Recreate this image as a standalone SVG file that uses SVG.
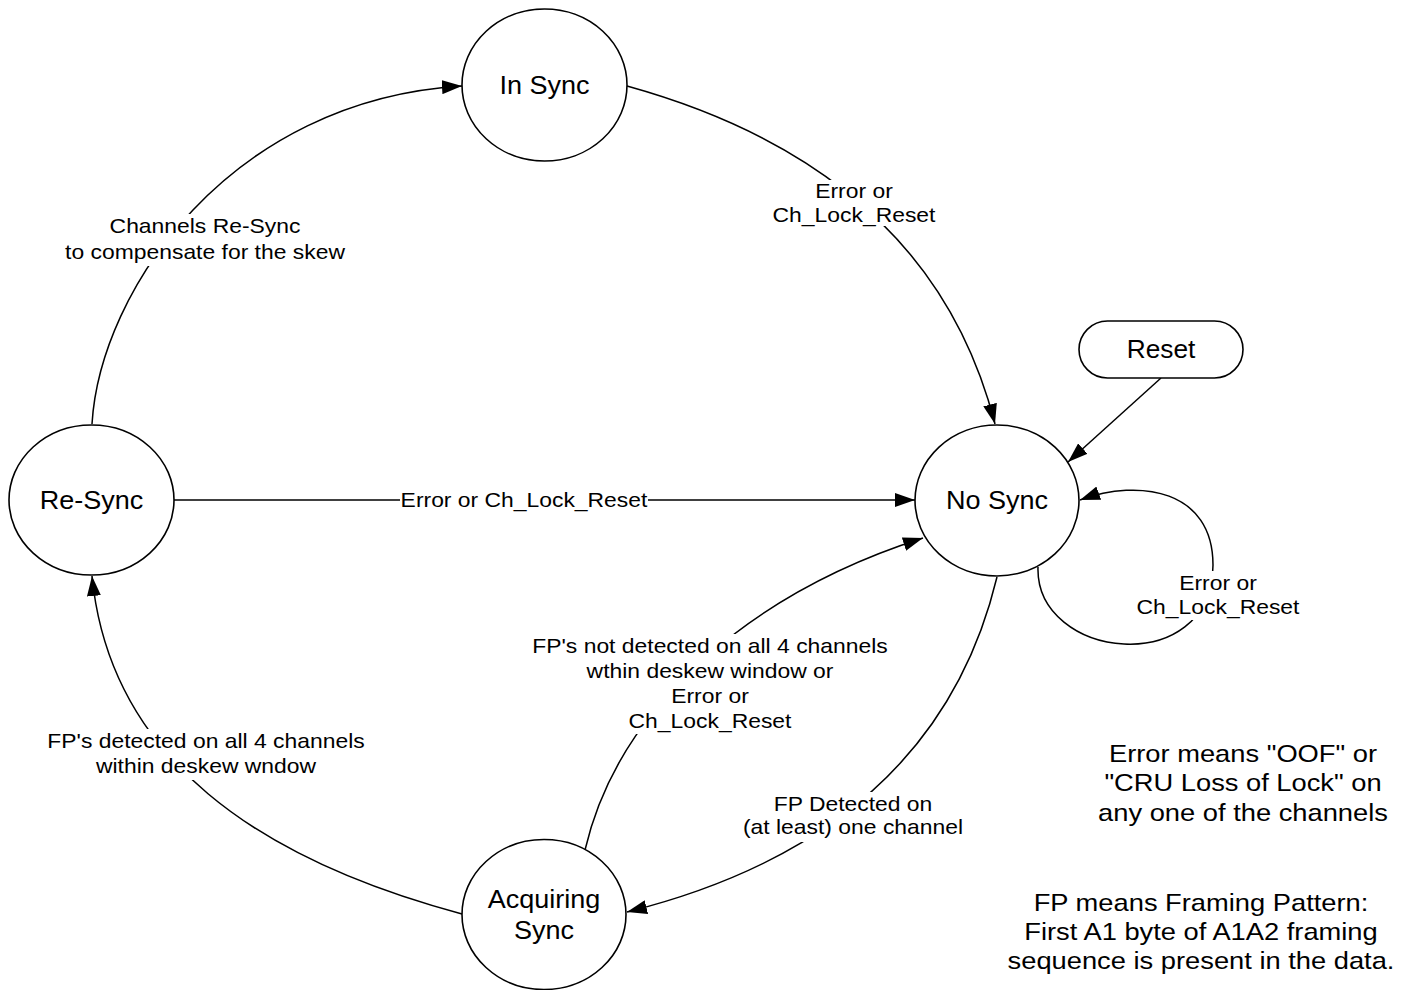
<svg xmlns="http://www.w3.org/2000/svg" width="1411" height="990" viewBox="0 0 1411 990">
<style>
.node{fill:#fff;stroke:#000;stroke-width:1.6}
.edge{fill:none;stroke:#000;stroke-width:1.5}
.bg{fill:#fff}
.nt{font-family:"Liberation Sans",Arial,sans-serif;font-size:25.5px;fill:#000;text-anchor:middle}
.et{font-family:"Liberation Sans",Arial,sans-serif;font-size:20px;fill:#000;text-anchor:middle}
.note{font-family:"Liberation Sans",Arial,sans-serif;font-size:24px;fill:#000;text-anchor:middle}
</style>
<defs>
<marker id="arr" viewBox="0 0 20 14" refX="20" refY="7" markerWidth="20" markerHeight="14" orient="auto" markerUnits="userSpaceOnUse">
<path d="M0,0 L20,7 L0,14 z" fill="#000"/>
</marker>
</defs>
<rect width="1411" height="990" fill="#fff"/>

<g id="connectors">
<path class="edge" d="M92,424 C100,290 230,100 462,86" marker-end="url(#arr)"/>
<path class="edge" d="M627,86 Q930,170 995,424" marker-end="url(#arr)"/>
<path class="edge" d="M1161,378 L1068,462" marker-end="url(#arr)"/>
<path class="edge" d="M1038,567 C1035,660 1212,680 1213,565 C1213,490 1140,478 1080,500" marker-end="url(#arr)"/>
<path class="edge" d="M174,500 L915,500" marker-end="url(#arr)"/>
<path class="edge" d="M997,577 Q935,835 627,912" marker-end="url(#arr)"/>
<path class="edge" d="M585,850 C620,700 760,590 923,538" marker-end="url(#arr)"/>
<path class="edge" d="M462,914 C260,860 110,760 92,576" marker-end="url(#arr)"/>

<g id="label-resync-insync">
<rect class="bg" x="63" y="214" width="284" height="52"/>
<g transform="translate(205,0) scale(1.145,1)"><text class="et" x="0" y="233">Channels Re-Sync</text><text class="et" x="0" y="259">to compensate for the skew</text></g>
</g>
<g id="label-insync-nosync">
<rect class="bg" x="771" y="180" width="166" height="46"/>
<g transform="translate(854,0) scale(1.145,1)"><text class="et" x="0" y="198">Error or</text><text class="et" x="0" y="222">Ch_Lock_Reset</text></g>
</g>
<g id="label-resync-nosync">
<rect class="bg" x="400" y="489" width="248" height="22"/>
<g transform="translate(524,0) scale(1.145,1)"><text class="et" x="0" y="507">Error or Ch_Lock_Reset</text></g>
</g>
<g id="label-self">
<rect class="bg" x="1136" y="571" width="164" height="49"/>
<g transform="translate(1218,0) scale(1.145,1)"><text class="et" x="0" y="590">Error or</text><text class="et" x="0" y="614">Ch_Lock_Reset</text></g>
</g>
<g id="label-acq-nosync">
<rect class="bg" x="532" y="634" width="356" height="100"/>
<g transform="translate(710,0) scale(1.145,1)"><text class="et" x="0" y="653">FP's not detected on all 4 channels</text><text class="et" x="0" y="678">wthin deskew window or</text><text class="et" x="0" y="703">Error or</text><text class="et" x="0" y="728">Ch_Lock_Reset</text></g>
</g>
<g id="label-acq-resync">
<rect class="bg" x="47" y="729" width="318" height="51"/>
<g transform="translate(206,0) scale(1.145,1)"><text class="et" x="0" y="748">FP's detected on all 4 channels</text><text class="et" x="0" y="773">within deskew wndow</text></g>
</g>
<g id="label-nosync-acq">
<rect class="bg" x="743" y="792" width="220" height="50"/>
<g transform="translate(853,0) scale(1.145,1)"><text class="et" x="0" y="811">FP Detected on</text><text class="et" x="0" y="834">(at least) one channel</text></g>
</g>
</g>

<g id="in-sync">
<ellipse class="node" cx="544.5" cy="85" rx="82.5" ry="76"/>
<g transform="translate(544.5,0) scale(1.06,1)"><text class="nt" x="0" y="94">In Sync</text></g>
</g>
<g id="no-sync">
<ellipse class="node" cx="997" cy="500.5" rx="82" ry="75.5"/>
<g transform="translate(997,0) scale(1.06,1)"><text class="nt" x="0" y="509">No Sync</text></g>
</g>
<g id="re-sync">
<ellipse class="node" cx="91.5" cy="500" rx="82.5" ry="75"/>
<g transform="translate(91.5,0) scale(1.06,1)"><text class="nt" x="0" y="509">Re-Sync</text></g>
</g>
<g id="acquiring-sync">
<ellipse class="node" cx="544" cy="914.5" rx="82" ry="75"/>
<g transform="translate(544,0) scale(1.06,1)"><text class="nt" x="0" y="908">Acquiring</text><text class="nt" x="0" y="939">Sync</text></g>
</g>
<g id="reset">
<rect class="node" x="1079" y="321" width="164" height="57" rx="28.5" ry="28.5"/>
<g transform="translate(1161,0) scale(1.03,1)"><text class="nt" x="0" y="358">Reset</text></g>
</g>

<g id="notes">
<g transform="translate(1243,0) scale(1.138,1)">
<text class="note" x="0" y="762">Error means "OOF" or</text>
<text class="note" x="0" y="791.5">"CRU Loss of Lock" on</text>
<text class="note" x="0" y="821">any one of the channels</text>
</g>
<g transform="translate(1201,0) scale(1.138,1)">
<text class="note" x="0" y="911.5">FP means Framing Pattern:</text>
<text class="note" x="0" y="940.5">First A1 byte of A1A2 framing</text>
<text class="note" x="0" y="969.5">sequence is present in the data.</text>
</g>
</g>
</svg>
